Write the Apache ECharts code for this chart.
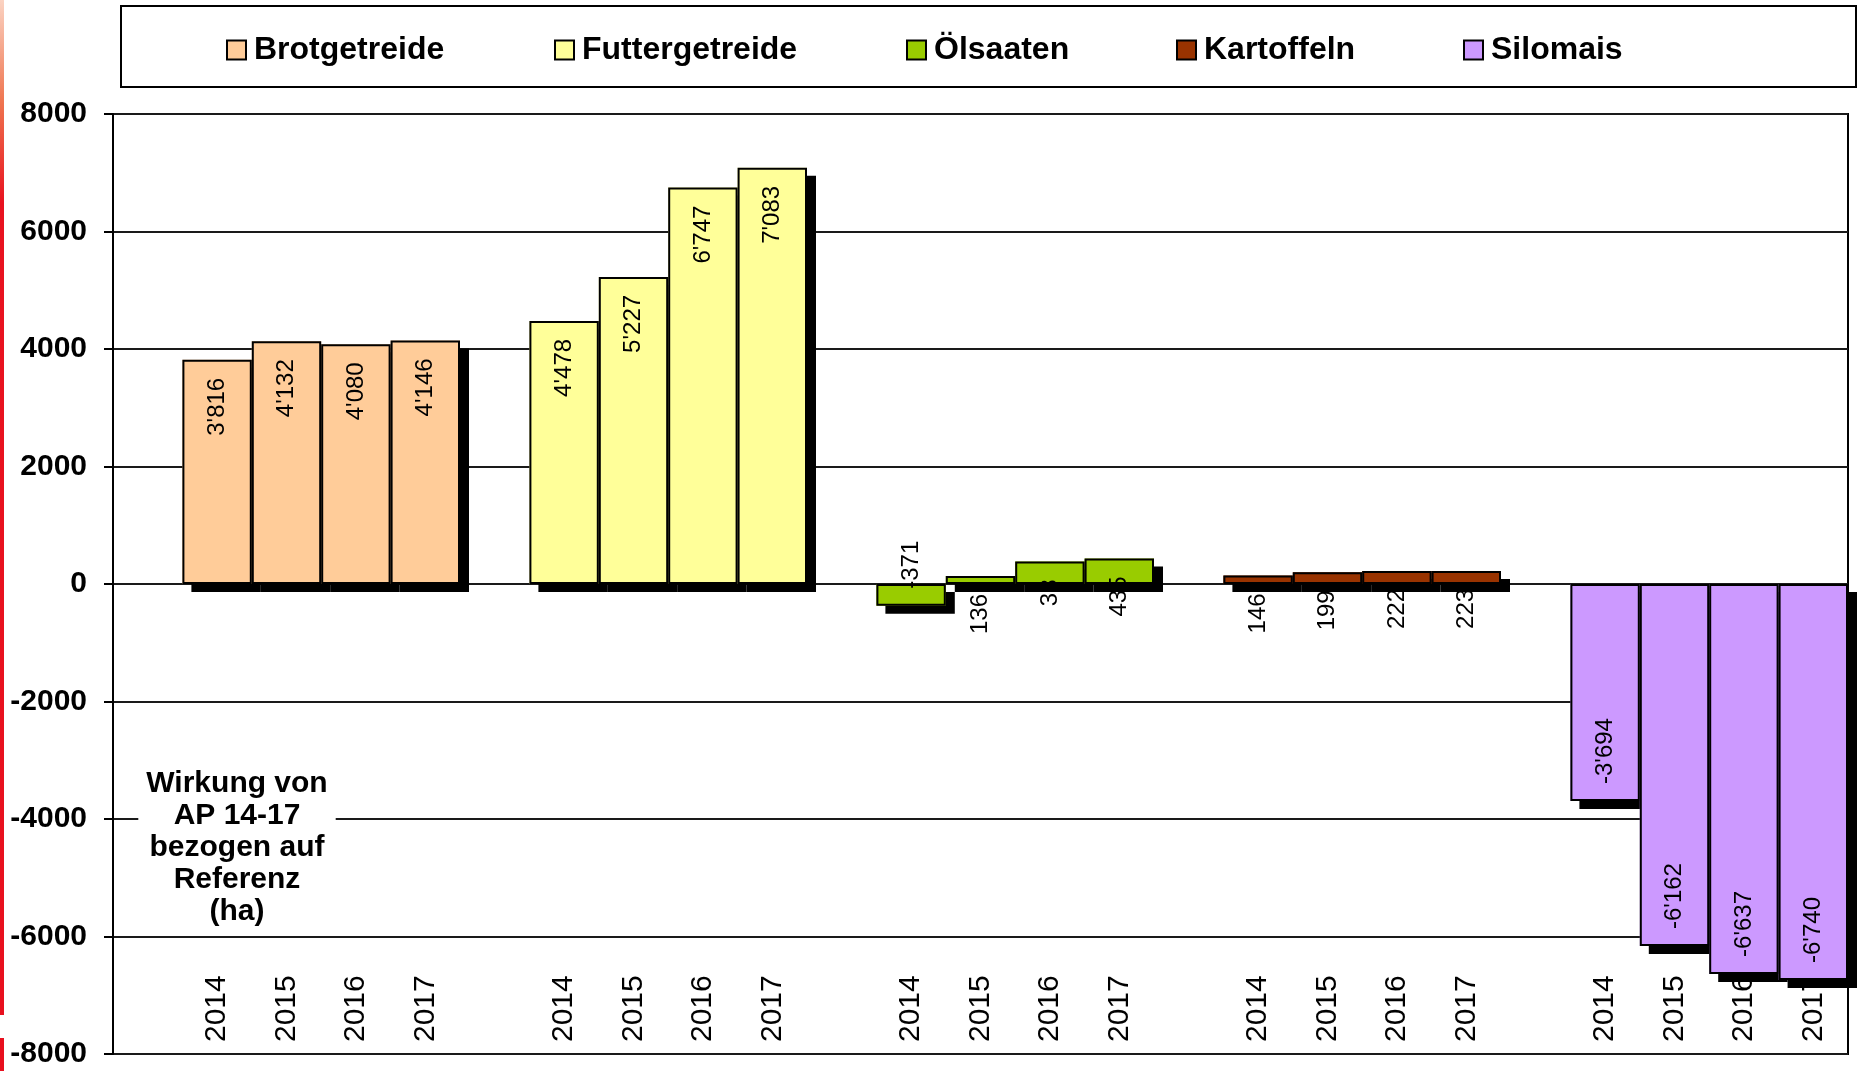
<!DOCTYPE html>
<html>
<head>
<meta charset="utf-8">
<script src="https://cdn.jsdelivr.net/npm/echarts@6/dist/echarts.min.js"></script>
<style>
  html, body { margin: 0; padding: 0; background: #fff; }
  #chart { width: 1859px; height: 1071px; }
</style>
</head>
<body>
<div id="chart"></div>
<script>
// Daten (ha), Wirkung von AP 14-17 bezogen auf Referenz
const years = ['2014', '2015', '2016', '2017']
const crops = ['Brotgetreide', 'Futtergetreide', 'Ölsaaten', 'Kartoffeln', 'Silomais']
const colors = ['#FFCC99', '#FFFF99', '#99CC00', '#993300', '#CC99FF']

const brotgetreide = [3816, 4132, 4080, 4146]
const futtergetreide = [4478, 5227, 6747, 7083]
const oelsaaten = [-371, 136, 384, 435]
const kartoffeln = [146, 199, 222, 223]
const silomais = [-3694, -6162, -6637, -6740]

// Beschriftungen so wie sie im Bild stehen
const brotLabels = ["3'816", "4'132", "4'080", "4'146"]
const futterLabels = ["4'478", "5'227", "6'747", "7'083"]
const oelLabels = ['-371', '136', '38', '435']
const kartLabels = ['146', '199', '222', '223']
const siloLabels = ["-3'694", "-6'162", "-6'637", "-6'740"]

const yMin = -8000
const yMax = 8000
const yStep = 2000

const values = [brotgetreide, futtergetreide, oelsaaten, kartoffeln, silomais]
const labels = [brotLabels, futterLabels, oelLabels, kartLabels, siloLabels]

const FONT = "'Liberation Sans', Arial, sans-serif"

// Kategorien: je Gruppe eine leere Lücke + 4 Jahre
const categories = []
crops.forEach(() => { categories.push(''); years.forEach(y => categories.push(y)) })

function buildData(g, withLabel) {
  const data = Array(categories.length).fill(null)
  values[g].forEach((v, i) => {
    const neg = v < 0
    data[g * 5 + 1 + i] = withLabel ? {
      value: v,
      label: {
        formatter: labels[g][i],
        position: neg ? 'insideBottom' : 'insideTop',
        align: neg ? 'left' : 'right',
        distance: neg ? 17 : 18
      }
    } : v
  })
  return data
}

const series = []
// Füllung + Schatten
crops.forEach((name, g) => {
  series.push({
    name,
    type: 'bar',
    z: 2,
    barGap: '-100%',
    barCategoryGap: '0%',
    data: buildData(g, true),
    itemStyle: {
      color: colors[g],
      borderWidth: 0,
      shadowColor: '#000',
      shadowBlur: 0,
      shadowOffsetX: 9,
      shadowOffsetY: 8
    },
    label: {
      show: true,
      rotate: 90,
      verticalAlign: 'middle',
      color: '#000',
      fontSize: 24,
      fontFamily: FONT
    },
    emphasis: { disabled: true }
  })
})
// schwarze Umrandung ohne Schatten darüber
crops.forEach((name, g) => {
  series.push({
    name: name + ' Rand',
    type: 'bar',
    z: 3,
    barGap: '-100%',
    barCategoryGap: '0%',
    data: buildData(g, false),
    itemStyle: { color: 'rgba(0,0,0,0)', borderColor: '#000', borderWidth: 2 },
    label: { show: false },
    emphasis: { disabled: true },
    silent: true
  })
})

// Legende: einzelne Einträge an festen Positionen
const legendLeft = [226, 554, 906, 1176, 1463]
const legends = crops.map((name, g) => ({
  data: [name],
  left: legendLeft[g],
  top: 34,
  padding: 0,
  icon: 'rect',
  itemWidth: 19,
  itemHeight: 19,
  selectedMode: false,
  itemStyle: { borderColor: '#000', borderWidth: 2, shadowColor: 'rgba(0,0,0,0)', shadowOffsetX: 0, shadowOffsetY: 0 },
  textStyle: { fontSize: 32, fontWeight: 'bold', color: '#000', fontFamily: FONT, padding: [0, 0, 0, 3] }
}))

const chart = echarts.init(document.getElementById('chart'))
chart.setOption({
  animation: false,
  backgroundColor: '#fff',
  legend: legends,
  grid: {
    left: 113, right: 11, top: 114, bottom: 17,
    show: true, borderColor: '#000', borderWidth: 2
  },
  xAxis: {
    type: 'category',
    data: categories,
    axisLine: { show: false, onZero: false },
    axisTick: { show: false },
    splitLine: { show: false },
    axisLabel: {
      inside: true,
      rotate: 90,
      margin: 12,
      interval: 0,
      color: '#000',
      fontSize: 30,
      fontFamily: FONT
    }
  },
  yAxis: {
    type: 'value',
    min: yMin,
    max: yMax,
    interval: yStep,
    axisLine: { show: true, lineStyle: { color: '#000', width: 2 } },
    axisTick: { show: true, length: 9, lineStyle: { color: '#000', width: 2 } },
    splitLine: { show: true, lineStyle: { color: '#1a1a1a', width: 2 } },
    axisLabel: {
      color: '#000', fontSize: 30, fontWeight: 'bold', fontFamily: FONT, margin: 26,
      formatter: v => String(v)
    }
  },
  graphic: [
    {
      type: 'rect', z: 1,
      shape: { x: 121, y: 6, width: 1735, height: 81 },
      style: { fill: '#fff', stroke: '#000', lineWidth: 2 }
    },
    {
      type: 'rect', z: 1,
      shape: { x: 0, y: 0, width: 4, height: 1015 },
      style: {
        fill: new echarts.graphic.LinearGradient(0, 0, 0, 1, [
          { offset: 0, color: '#fbd3c2' },
          { offset: 0.1, color: '#ef7550' },
          { offset: 0.2, color: '#e8121f' },
          { offset: 1, color: '#e8101e' }
        ])
      }
    },
    {
      type: 'rect', z: 1,
      shape: { x: 0, y: 1038, width: 4, height: 33 },
      style: { fill: '#e8101e' }
    },
    {
      type: 'text', z: 10,
      x: 237, y: 848,
      style: {
        text: 'Wirkung von\nAP 14-17\nbezogen auf\nReferenz\n(ha)',
        align: 'center',
        verticalAlign: 'middle',
        fontSize: 30,
        fontWeight: 'bold',
        fontFamily: FONT,
        lineHeight: 32,
        fill: '#000',
        backgroundColor: '#fff',
        padding: [2, 8]
      }
    }
  ],
  series
})
</script>
</body>
</html>
